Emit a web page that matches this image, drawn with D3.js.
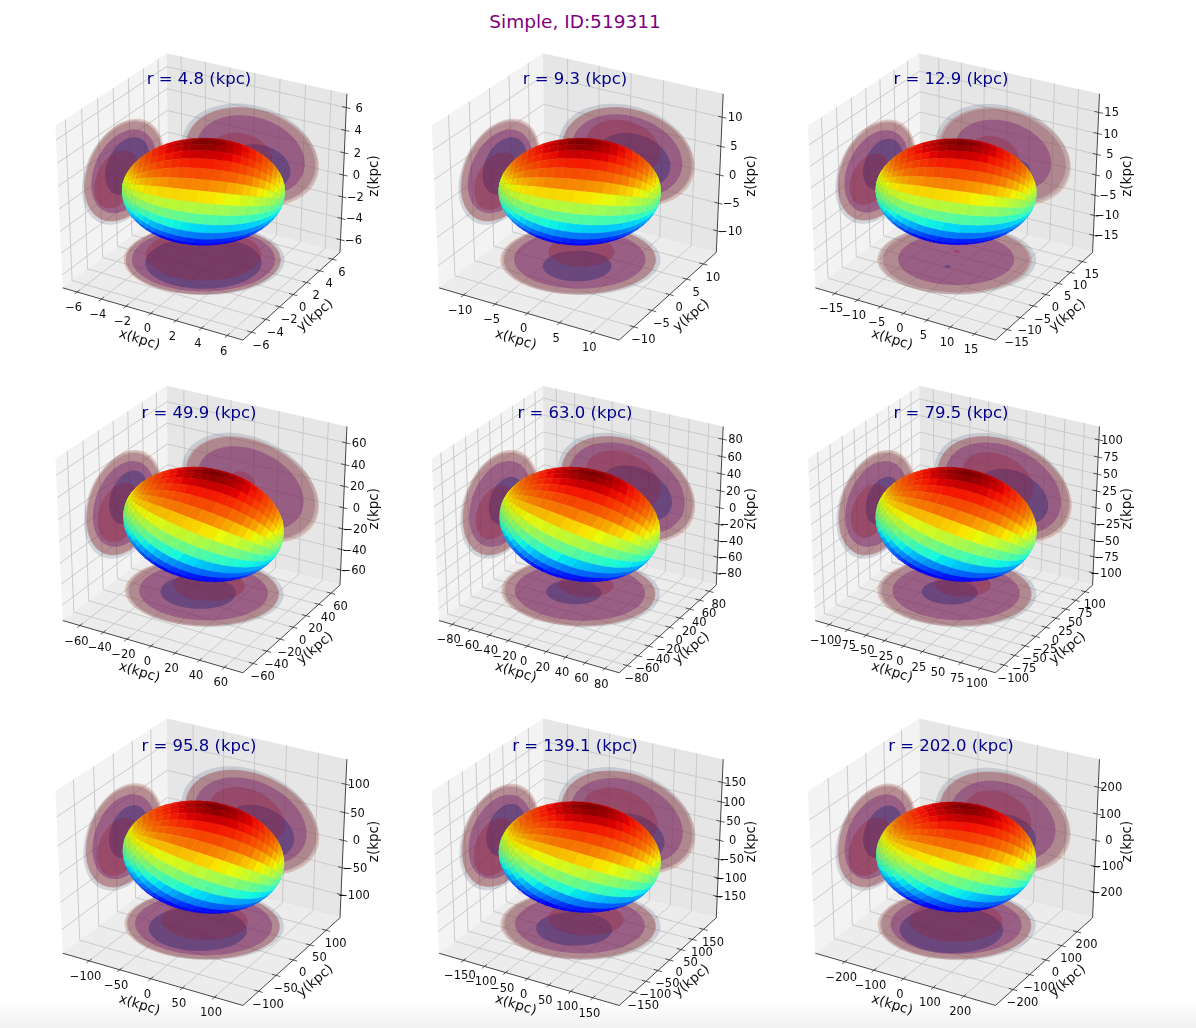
<!DOCTYPE html>
<html><head><meta charset="utf-8">
<script src="https://cdn.jsdelivr.net/npm/d3@7"></script>
<style>html,body{margin:0;padding:0;background:#fff;overflow:hidden}svg{display:block;font-family:"DejaVu Sans",sans-serif}</style>
</head><body><div id="chart"></div>
<script>
const figureTitle = "Simple, ID:519311";
const radii = [4.8, 9.3, 12.9, 49.9, 63.0, 79.5, 95.8, 139.1, 202.0];
const axisLimits = [7.2, 13.95, 19.35, 74.85, 94.5, 119.25, 143.7, 208.65, 303];
const tickSets = [
  [-6,-4,-2,0,2,4,6],
  [-10,-5,0,5,10],
  [-15,-10,-5,0,5,10,15],
  [-60,-40,-20,0,20,40,60],
  [-80,-60,-40,-20,0,20,40,60,80],
  [-100,-75,-50,-25,0,25,50,75,100],
  [-100,-50,0,50,100],
  [-150,-100,-50,0,50,100,150],
  [-200,-100,0,100,200]
];
// ellipsoid in units of r: long, middle, short semi-axis; angles in degrees
const semiAxes = [
  [1.17,1.17,0.87],[1.165,1.165,0.87],[1.155,1.155,0.86],
  [1.17,1.12,0.91],[1.17,1.12,0.91],[1.17,1.13,0.91],
  [1.17,1.14,0.9],[1.17,1.14,0.89],[1.15,1.15,0.89]
];
const shapeTilts = [0,0,2,15,15,14,12,9,5];
const backTilt = 30;
const meshTilts = [9,9,9,11,11,11,11,12,15];
const meshTurns = [3,3,5,6,8,10,14,17,22];
const colourTilts = [2,2,2,-3,-3,-2,0,2,4];
const colourLean = 25;
const latStops = [-90,-45,-21,0,15,34,53,80,90];
const colourStops = [0.115,0.125,0.3,0.5,0.63,0.78,0.87,0.98,1];
// contour planes, units of r
const floorZ = -1.28, backY = 1.38, leftX = -1.34;
// outer contour offsets [blue u,v , red u,v]
const floorOuter = [0.02,0.012,-0.02,-0.012];
const backOuter  = [-0.02,0.02,0.018,-0.018];
const leftOuter  = [-0.02,-0.012,0.018,0.012];
// middle contour scale on each plane
const midFloor = [0.9,0.83,0.74,0.82,0.83,0.81,0.87,0.82,0.84];
const midBack  = [0.8,0.82,0.72,0.78,0.85,0.85,0.82,0.82,0.78];
const midLeft  = [0.8,0.8,0.8,0.8,0.8,0.8,0.8,0.8,0.8];
// inner contours [u,v,scale]
const floorBlue = [[0.055,-0.096,0.73],[0.077,-0.212,0.43],[0.015,-0.273,0.04],[-0.057,-0.058,0.48],[-0.066,-0.063,0.35],[-0.07,-0.066,0.355],[0,-0.167,0.62],[0,-0.164,0.48],[0.023,-0.178,0.66]];
const floorRed  = [[-0.066,0.115,0.73],[-0.09,0.204,0.42],[-0.10,0.197,0.04],[-0.03,0.212,0.46],[-0.019,0.22,0.35],[-0.026,0.241,0.36],[-0.042,0.103,0.55],[-0.006,0.188,0.48],[-0.06,0.096,0.6]];
const backBlue  = [[0.171,-0.162,0.45],[0.114,-0.062,0.55],[0.229,-0.19,0.22],[0.029,-0.088,0.15],[0.171,-0.046,0.52],[0.171,-0.111,0.52],[0.171,-0.143,0.5],[0.143,-0.247,0.44],[0.114,-0.223,0.4]];
const backRed   = [[-0.143,-0.029,0.45],[-0.057,0.144,0.55],[-0.143,-0.009,0.37],[-0.114,0.127,0.17],[-0.057,0.144,0.55],[-0.086,0.136,0.52],[-0.057,0.08,0.55],[-0.114,0.062,0.55],[-0.086,0.072,0.5]];
const leftBlue  = [[0.089,0.058,0.55],[0.119,0.044,0.55],[0.168,0.05,0.5],[0.119,0.069,0.5],[0.149,-0.01,0.45],[0.168,-0.02,0.45],[0.119,0.037,0.5],[0.149,0.054,0.5],[0.168,0.012,0.5]];
const leftRed   = [[-0.208,-0.05,0.55],[-0.119,-0.127,0.55],[-0.198,-0.055,0.5],[-0.149,-0.086,0.55],[-0.149,-0.086,0.5],[-0.178,-0.04,0.5],[-0.149,-0.119,0.55],[-0.149,-0.119,0.55],[-0.178,-0.104,0.55]];

const W = 1196, H = 1028;
const colStep = 376.3, rowStep = 332.7, originX = 203.5, originY = 191.7, sx = 208, sy = 185;
const svg = d3.select("#chart").append("svg").attr("width",W).attr("height",H).attr("viewBox",[0,0,W,H]);
const defs = svg.append("defs");
const fade = defs.append("linearGradient").attr("id","fade").attr("x1",0).attr("x2",0).attr("y1",0).attr("y2",1);
fade.append("stop").attr("offset",0).attr("stop-color","#fff");
fade.append("stop").attr("offset",1).attr("stop-color","#f1f1f1");
defs.append("filter").attr("id","soft").attr("x",-0.1).attr("y",-0.1).attr("width",1.2).attr("height",1.2).append("feGaussianBlur").attr("stdDeviation",0.4);
svg.append("rect").attr("x",0).attr("y",1000).attr("width",W).attr("height",28).attr("fill","url(#fade)");
svg.append("text").attr("x",575).attr("y",28).attr("text-anchor","middle").attr("font-size",18.5).attr("fill","#800080").text(figureTitle);

// view: elev 30, azim -60, distance 10
const U = [0.866025,0.5,0], V = [-0.25,0.433013,0.866025], N = [0.433013,-0.75,0.5], viewDist = 10;
const dot = (a,b)=>a[0]*b[0]+a[1]*b[1]+a[2]*b[2];
const jetR = d3.scaleLinear().domain([0,0.35,0.66,0.89,1]).range([0,0,1,1,0.5]);
const jetG = d3.scaleLinear().domain([0,0.125,0.375,0.64,0.91,1]).range([0,0,1,1,0,0]);
const jetB = d3.scaleLinear().domain([0,0.11,0.34,0.65,1]).range([0.5,1,1,0,0]);
const latColour = d3.scaleLinear().domain(latStops).range(colourStops).clamp(true);
const line = d3.line().curve(d3.curveLinearClosed);
const rad = d=>d*Math.PI/180;
const add3 = (a,ka,b,kb)=>[0,1,2].map(k=>a[k]*ka+b[k]*kb);

radii.forEach((r,i)=>{
  const col = i%3, row = Math.floor(i/3), L = axisLimits[i], ticks = tickSets[i];
  const scale = d3.scaleLinear().domain([-L,L]).range([-0.5,0.5]);
  const cx = originX+col*colStep, cy = originY+row*rowStep;
  const pxX = d3.scaleLinear().domain([0,1]).range([cx,cx+sx]);
  const pxY = d3.scaleLinear().domain([0,1]).range([cy,cy-sy]);
  const projN = q=>{const f=viewDist/(viewDist-dot(N,q));return [pxX(dot(U,q)*f),pxY(dot(V,q)*f)];};
  const proj = (x,y,z)=>projN([scale(x),scale(y),scale(z)]);
  const g = svg.append("g").attr("filter","url(#soft)");
  const poly = (pts,fill,op)=>g.append("path").attr("d",line(pts)).attr("fill",fill).attr("stroke","none").attr("fill-opacity",op===undefined?1:op);
  const seg = (a,b,c,w)=>g.append("line").attr("x1",a[0]).attr("y1",a[1]).attr("x2",b[0]).attr("y2",b[1]).attr("stroke",c).attr("stroke-width",w);
  // panes
  poly([proj(-L,-L,-L),proj(-L,L,-L),proj(-L,L,L),proj(-L,-L,L)],"#f3f3f3");
  poly([proj(-L,L,-L),proj(L,L,-L),proj(L,L,L),proj(-L,L,L)],"#e6e6e6");
  poly([proj(-L,-L,-L),proj(L,-L,-L),proj(L,L,-L),proj(-L,L,-L)],"#ececec");
  // grid
  const gc="#c6c6c6", gw=0.9;
  ticks.forEach(t=>{
    seg(proj(t,-L,-L),proj(t,L,-L),gc,gw); seg(proj(t,L,-L),proj(t,L,L),gc,gw);
    seg(proj(-L,t,-L),proj(L,t,-L),gc,gw); seg(proj(-L,t,-L),proj(-L,t,L),gc,gw);
    seg(proj(-L,-L,t),proj(-L,L,t),gc,gw); seg(proj(-L,L,t),proj(L,L,t),gc,gw);
  });
  // axes
  const ax="#333";
  seg(proj(-L,-L,-L),proj(L,-L,-L),ax,0.9); seg(proj(L,-L,-L),proj(L,L,-L),ax,0.9); seg(proj(L,L,-L),proj(L,L,L),ax,0.9);
  const d=L*0.045;
  const label=(p,dx,dy,s)=>g.append("text").attr("x",p[0]+dx).attr("y",p[1]+dy).attr("text-anchor","middle").attr("dominant-baseline","central").attr("font-size",11.5).attr("fill","#111").text(String(s).replace("-","\u2212"));
  ticks.forEach(t=>{
    seg(proj(t,-L-d,-L),proj(t,-L+d,-L),ax,0.8);
    seg(proj(L-d,t,-L),proj(L+d,t,-L),ax,0.8);
    seg(proj(L+d,L,t),proj(L-d,L,t),ax,0.8);
    label(proj(t,-L,-L),-3.5,15,t);
    label(proj(L,t,-L),9.5,12.5,t);
    label(proj(L,L,t),13,0,t);
  });
  // axis labels
  const mx=proj(0,-L,-L), my=proj(L,0,-L), mz=proj(L,L,0);
  const axisText=(x,y,rot,s)=>g.append("text").attr("transform",`translate(${x},${y}) rotate(${rot})`).attr("text-anchor","middle").attr("dominant-baseline","central").attr("font-size",13.5).attr("fill","#111").text(s);
  axisText(mx[0]-11,mx[1]+25,17,"x(kpc)");
  axisText(my[0]+21,my[1]+20,-40,"y(kpc)");
  axisText(mz[0]+30,mz[1]+1,-90,"z(kpc)");

  // ellipsoid frame: e1 screen-left, e2 towards the viewer, e3 up, leaned back and tilted
  const [A1,A2,A3] = semiAxes[i];
  const tau = rad(shapeTilts[i]), om = rad(backTilt), del = rad(meshTilts[i]), zet = rad(meshTurns[i]), kap = rad(colourTilts[i]), lean = rad(colourLean);
  const h0=[-U[0],-U[1],0], e20=[U[1],-U[0],0], z0=[0,0,1];
  const e2=add3(e20,Math.cos(om),z0,Math.sin(om));
  const e3a=add3(e20,-Math.sin(om),z0,Math.cos(om));
  const e1=add3(h0,Math.cos(tau),e3a,Math.sin(tau));
  const e3=add3(h0,-Math.sin(tau),e3a,Math.cos(tau));
  const frame=[[e1,A1],[e2,A2],[e3,A3]];
  const Q=(a,b)=>d3.sum(frame,([e,s])=>e[a]*e[b]*s*s);
  const shadow=(a,b,c,val,u0,v0,s)=>{
    const l11=Math.sqrt(Q(a,a)), l21=Q(a,b)/l11, l22=Math.sqrt(Q(b,b)-l21*l21);
    return d3.range(72).map(k=>{
      const t=k/72*2*Math.PI, cu=Math.cos(t), su=Math.sin(t);
      const p=[0,0,0];
      p[a]=r*(u0+s*l11*cu); p[b]=r*(v0+s*(l21*cu+l22*su)); p[c]=r*val;
      return proj(p[0],p[1],p[2]);
    });
  };
  const blue1="rgb(75,90,125)", red1="rgb(165,75,45)", mauve="rgb(135,50,80)", mid="rgb(118,30,115)", blue3="rgb(52,45,118)", red3="rgb(150,30,45)";
  const stack=(a,b,c,val,o,m,bi,ri)=>{
    poly(shadow(a,b,c,val,o[0],o[1],1),blue1,0.2);
    poly(shadow(a,b,c,val,o[2],o[3],0.985),red1,0.26);
    poly(shadow(a,b,c,val,0,0,m+(1-m)*0.75),mauve,0.28);
    poly(shadow(a,b,c,val,0,0,m),mid,0.4);
    poly(shadow(a,b,c,val,bi[0],bi[1],bi[2]),blue3,0.45);
    poly(shadow(a,b,c,val,ri[0],ri[1],ri[2]),red3,0.3);
  };
  stack(0,1,2,floorZ,floorOuter,midFloor[i],floorBlue[i],floorRed[i]);
  stack(0,2,1,backY,backOuter,midBack[i],backBlue[i],backRed[i]);
  stack(1,2,0,leftX,leftOuter,midLeft[i],leftBlue[i],leftRed[i]);

  // ellipsoid mesh: unit sphere around a tilted pole, stretched by the semi-axes, coloured by latitude
  const nT=30,nP=30, cells=[];
  const cAxis=[-Math.sin(kap)*Math.cos(lean),Math.sin(lean),Math.cos(kap)*Math.cos(lean)];
  const m1=[Math.cos(del)*Math.cos(zet),Math.cos(del)*Math.sin(zet),Math.sin(del)];
  const m2=[-Math.sin(zet),Math.cos(zet),0];
  const m3=[-Math.sin(del)*Math.cos(zet),-Math.sin(del)*Math.sin(zet),Math.cos(del)];
  const sph=(th,ps)=>{
    const a=Math.cos(th), b=Math.sin(th)*Math.cos(ps), c=Math.sin(th)*Math.sin(ps);
    return [0,1,2].map(k=>a*m1[k]+b*m2[k]+c*m3[k]);
  };
  const surf=(th,ps)=>{
    const u=sph(th,ps);
    return [0,1,2].map(k=>r*(A1*u[0]*e1[k]+A2*u[1]*e2[k]+A3*u[2]*e3[k]));
  };
  for(let a=0;a<nT;a++)for(let b=0;b<nP;b++){
    const th0=a/nT*Math.PI, th1=(a+1)/nT*Math.PI, p0=b/nP*2*Math.PI-Math.PI, p1=(b+1)/nP*2*Math.PI-Math.PI;
    const pm=(p0+p1)/2, thm=(th0+th1)/2;
    const cent=surf(thm,pm).map(scale);
    const dd=dot(N,cent);
    const u=sph(thm,pm);
    const nv=[0,1,2].map(k=>u[0]/A1*e1[k]+u[1]/A2*e2[k]+u[2]/A3*e3[k]);
    const nl=Math.hypot(...nv);
    const viewDir=[N[0]-cent[0]/viewDist,N[1]-cent[1]/viewDist,N[2]-cent[2]/viewDist];
    if(dot(nv,viewDir)<-0.02)continue;
    const lat=Math.asin(Math.max(-1,Math.min(1,dot(u,cAxis))))*180/Math.PI;
    const t=latColour(lat);
    const shade=0.96+0.04*dot(nv,[0.6,-0.4,-0.2])/nl-((a+b)%2)*0.012;
    const c=`rgb(${Math.round(255*jetR(t)*shade)},${Math.round(255*jetG(t)*shade)},${Math.round(255*jetB(t)*shade)})`;
    cells.push({dd,c,pts:[surf(th0,p0),surf(th1,p0),surf(th1,p1),surf(th0,p1)].map(p=>proj(p[0],p[1],p[2]))});
  }
  cells.sort((p,q)=>p.dd-q.dd);
  g.selectAll(null).data(cells).enter().append("path").attr("d",c=>line(c.pts)).attr("fill",c=>c.c).attr("stroke",c=>c.c).attr("stroke-width",0.4);
  // panel title
  g.append("text").attr("x",199+col*376).attr("y",[84,418,751][row]).attr("text-anchor","middle").attr("font-size",16.5).attr("fill","#00008b").text(`r = ${r.toFixed(1)} (kpc)`);
});
</script></body></html>
